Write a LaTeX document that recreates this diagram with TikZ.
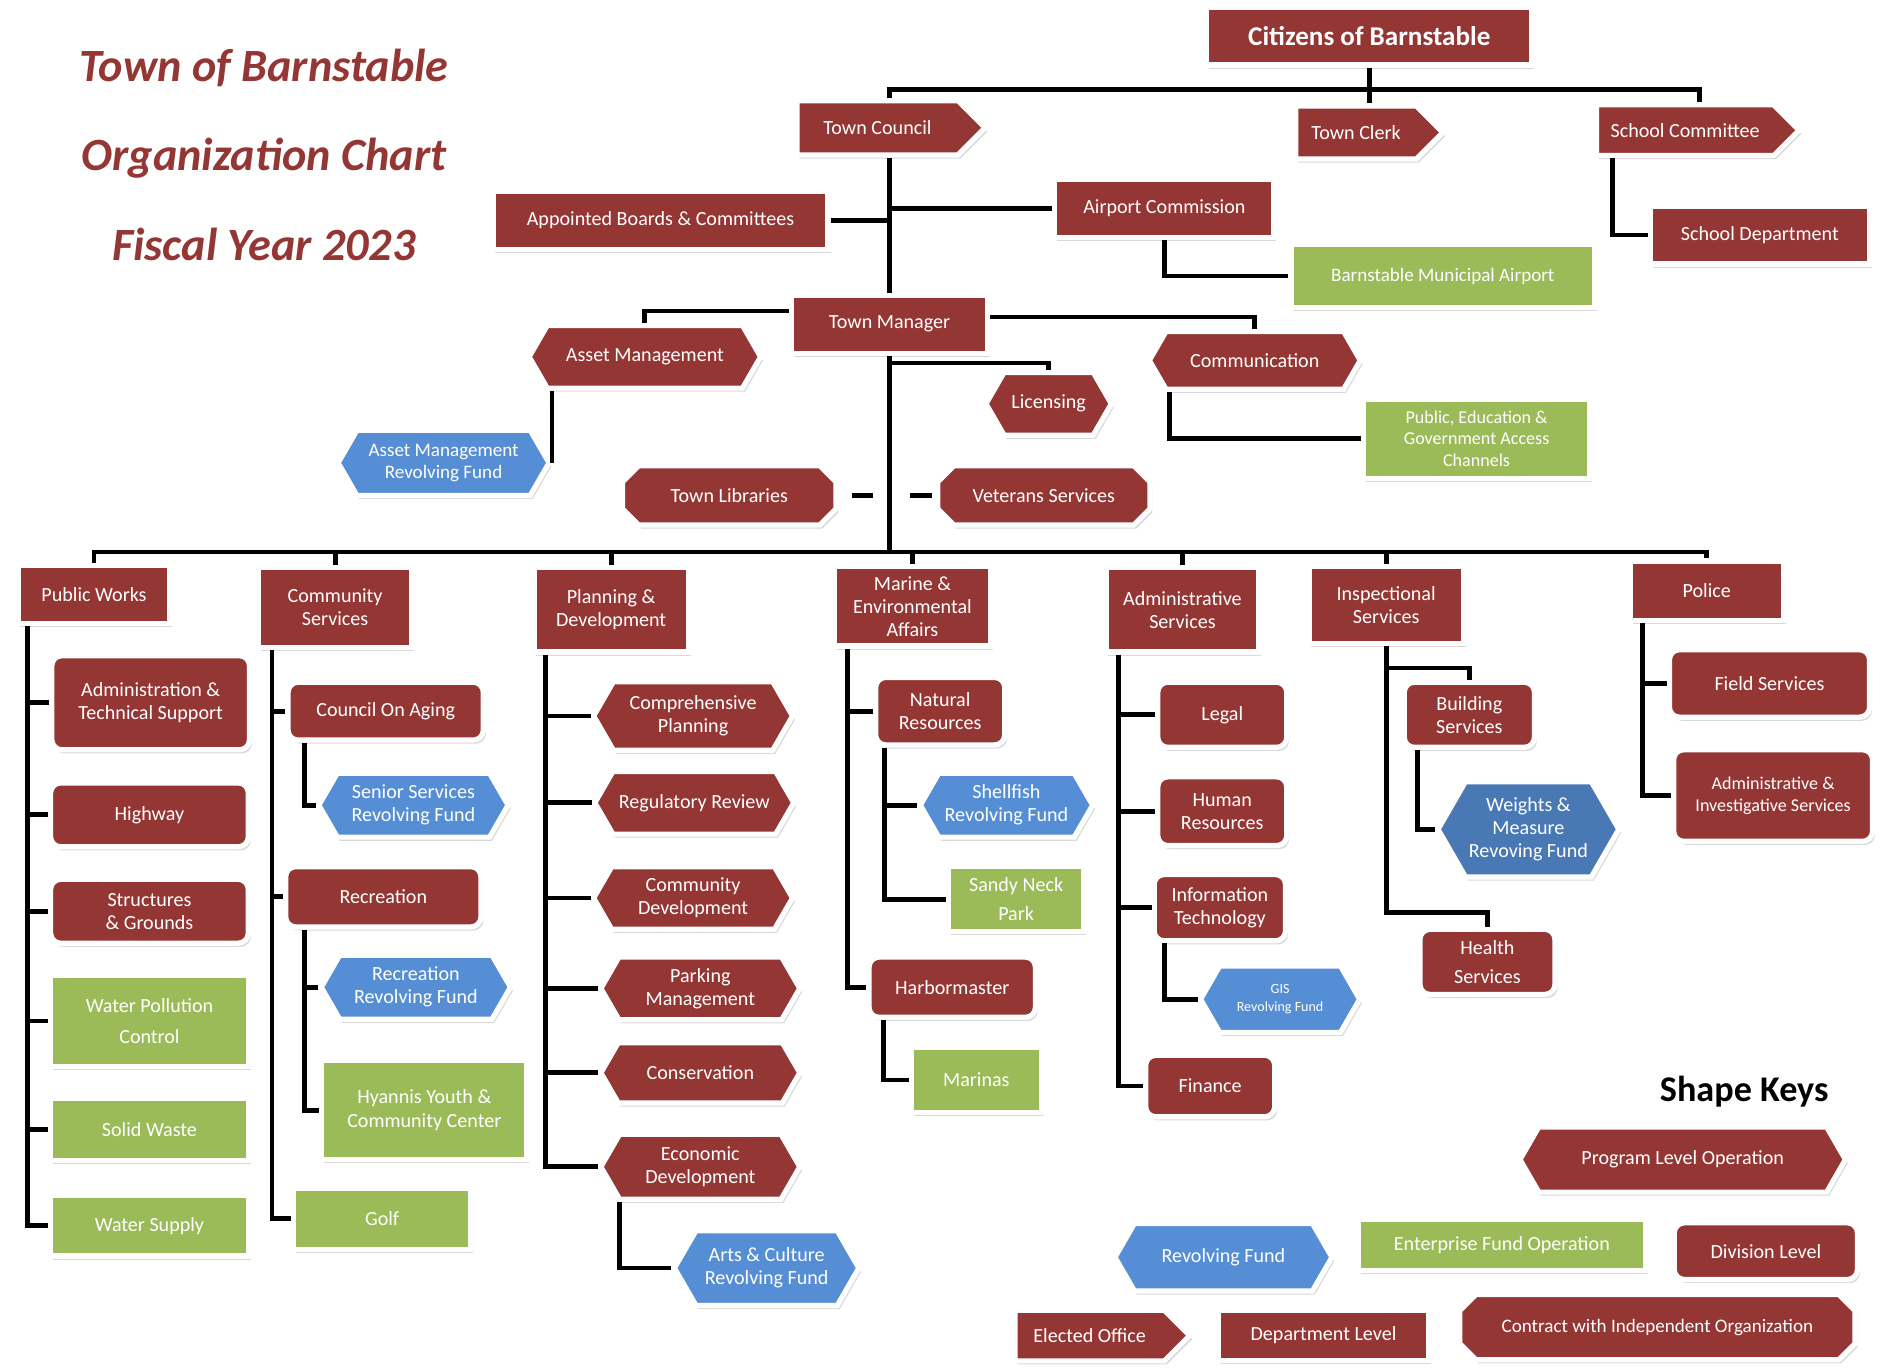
\documentclass[tikz,border=0pt]{standalone}
\usepackage{fontspec}
\setmainfont{Carlito}
\usetikzlibrary{shapes.symbols,shapes.misc,shadows}
\definecolor{boxred}{RGB}{148,54,52}
\definecolor{fundblue}{RGB}{85,142,213}
\definecolor{entgreen}{RGB}{155,187,89}
\tikzset{
    %Define base style for all boxes
    unit/.style={
           draw=white,
           line width=2.6pt,
           text=white,
           inner sep=1pt,
           align=center,
           font=\fontsize{10}{11.5}\selectfont,
           drop shadow={shadow xshift=1.2pt,shadow yshift=-1.8pt,opacity=.3}},
    %Size of a box, in picture units
    wh/.style 2 args={
           minimum width=#1*0.6pt,
           minimum height=#2*0.6pt},
    %Department level
    dept/.style={unit, rectangle, fill=boxred},
    %Division level
    divn/.style={unit, rectangle, rounded corners=5pt, fill=boxred},
    %Program level operation
    prog/.style={unit, signal, signal to=east and west,
           signal pointer angle=120, fill=boxred},
    %Revolving fund
    rfund/.style={prog, fill=fundblue},
    %Enterprise fund operation
    ent/.style={unit, rectangle, fill=entgreen},
    %Elected office
    elect/.style={unit, signal, signal to=east,
           signal pointer angle=90, fill=boxred},
    %Contract with independent organization
    contr/.style={unit, chamfered rectangle,
           chamfered rectangle xsep=4pt,
           chamfered rectangle ysep=4pt, fill=boxred},
    %Title text
    ttl/.style={font=\fontsize{23}{26}\selectfont\bfseries\itshape, text=boxred},
    % Define connector style
    conn/.style={
           line width=2.4pt,
           black}
}

\begin{document}
\begin{tikzpicture}[x=0.6pt, y=-0.6pt]
  \useasboundingbox (0,0) rectangle (1568,1136);
  \node[ttl] (t1) at (219,56) {Town of Barnstable};
  \node[ttl] (t2) at (219,131) {Organization Chart};
  \node[ttl] (t3) at (219,203) {Fiscal Year 2023};

  % top of the chart
  \node[dept, wh={270}{48}, font=\fontsize{13.5}{15}\selectfont\bfseries] (cit) at (1136,30) {Citizens of Barnstable};
  \node[elect, wh={156}{45}] (tc) at (728,106) {Town Council};
  \node[elect, wh={122}{44}] (clerk) at (1125,110) {Town Clerk};
  \node[elect, wh={168}{42}] (sc) at (1398,108) {School Committee};
  \node[dept, wh={278}{48}] (ab) at (548,183) {Appointed Boards \& Committees};
  \node[dept, wh={182}{48}] (ac) at (966,173) {Airport Commission};
  \node[ent, wh={252}{52}, font=\fontsize{9.5}{11}\selectfont] (bma) at (1197,229) {Barnstable Municipal Airport};
  \node[dept, wh={182}{48}] (sd) at (1460,195) {School Department};
  \node[dept, wh={163}{48}] (tm) at (738,269) {Town Manager};
  \node[prog, wh={192}{52}] (am) at (535,296) {Asset Management};
  \node[rfund, wh={175}{54}, font=\fontsize{9.5}{11}\selectfont] (amrf) at (368,384) {Asset Management\\Revolving Fund};
  \node[prog, wh={175}{48}] (comm) at (1041,299) {Communication};
  \node[ent, wh={187}{66}, font=\fontsize{9}{10.5}\selectfont] (peg) at (1225,364) {Public, Education \&\\Government Access\\Channels};
  \node[prog, wh={104}{52}] (lic) at (870,335) {Licensing};
  \node[contr, wh={177}{49}] (tl) at (605,411) {Town Libraries};
  \node[contr, wh={176}{49}] (vs) at (866,411) {Veterans Services};

  % departments
  \node[dept, wh={126}{48}] (pw) at (78,493) {Public Works};
  \node[dept, wh={127}{66}] (cs) at (278,504) {Community\\Services};
  \node[dept, wh={128}{70}] (pd) at (507,506) {Planning \&\\Development};
  \node[dept, wh={129}{66}] (mea) at (757,503) {Marine \&\\Environmental\\Affairs};
  \node[dept, wh={127}{70}] (as) at (981,506) {Administrative\\Services};
  \node[dept, wh={128}{64}] (is) at (1150,502) {Inspectional\\Services};
  \node[dept, wh={127}{49}] (po) at (1416,490) {Police};

  % public works
  \node[divn, wh={164}{78}] (ats) at (125,583) {Administration \&\\Technical Support};
  \node[divn, wh={164}{53}] (hw) at (124,676) {Highway};
  \node[divn, wh={164}{53}] (sg) at (124,756) {Structures\\\& Grounds};
  \node[ent, wh={164}{76}] (wpc) at (124,847) {Water Pollution\\[4pt]Control};
  \node[ent, wh={164}{52}] (sw) at (124,937) {Solid Waste};
  \node[ent, wh={164}{50}] (wsup) at (124,1017) {Water Supply};

  % community services
  \node[divn, wh={162}{48}] (coa) at (320,590) {Council On Aging};
  \node[rfund, wh={157}{53}] (ssrf) at (343,668) {Senior Services\\Revolving Fund};
  \node[divn, wh={162}{50}] (rec) at (318,744) {Recreation};
  \node[rfund, wh={157}{53}] (rrf) at (345,819) {Recreation\\Revolving Fund};
  \node[ent, wh={170}{82}] (hycc) at (352,921) {Hyannis Youth \&\\Community Center};
  \node[ent, wh={147}{51}] (golf) at (317,1011) {Golf};

  % planning and development
  \node[prog, wh={165}{57}] (cp) at (575,594) {Comprehensive\\Planning};
  \node[prog, wh={165}{52}] (rr) at (576,666) {Regulatory Review};
  \node[prog, wh={165}{52}] (cd) at (575,745) {Community\\Development};
  \node[prog, wh={165}{52}] (pm) at (581,820) {Parking\\Management};
  \node[prog, wh={165}{50}] (cons) at (581,890) {Conservation};
  \node[prog, wh={165}{54}] (ed) at (581,968) {Economic\\Development};
  \node[rfund, wh={153}{62}] (acrf) at (636,1052) {Arts \& Culture\\Revolving Fund};

  % marine and environmental affairs
  \node[divn, wh={107}{56}] (nr) at (780,590) {Natural\\Resources};
  \node[rfund, wh={143}{53}] (shf) at (835,668) {Shellfish\\Revolving Fund};
  \node[ent, wh={112}{54}] (snp) at (843,746) {Sandy Neck\\[3pt]Park};
  \node[divn, wh={138}{50}] (hm) at (790,819) {Harbormaster};
  \node[ent, wh={108}{54}] (mar) at (810,896) {Marinas};

  % administrative services
  \node[divn, wh={107}{54}] (leg) at (1014,593) {Legal};
  \node[divn, wh={107}{57}] (hr) at (1014,673) {Human\\Resources};
  \node[divn, wh={109}{55}] (it) at (1012,753) {Information\\Technology};
  \node[rfund, wh={132}{55}, font=\fontsize{7}{9}\selectfont] (gis) at (1062,829) {GIS\\Revolving Fund};
  \node[divn, wh={107}{51}] (fin) at (1004,901) {Finance};

  % inspectional services
  \node[divn, wh={108}{54}] (bs) at (1219,593) {Building\\Services};
  \node[rfund, wh={150}{79}, fill=fundblue!85!black] (wm) at (1268,688) {Weights \&\\Measure\\Revoving Fund};
  \node[divn, wh={112}{54}] (hs) at (1234,798) {Health\\[3pt]Services};

  % police
  \node[divn, wh={166}{56}] (fs) at (1468,567) {Field Services};
  \node[divn, wh={165}{76}, font=\fontsize{9}{11}\selectfont] (ais) at (1471,660) {Administrative \&\\Investigative Services};

  % shape keys
  \node[font=\fontsize{18}{20}\selectfont\bfseries] (keys) at (1447,906) {Shape Keys};
  \node[prog, wh={270}{54}] (k1) at (1396,962) {Program Level Operation};
  \node[rfund, wh={180}{56}] (k2) at (1015,1043) {Revolving Fund};
  \node[ent, wh={238}{42}] (k3) at (1246,1033) {Enterprise Fund Operation};
  \node[divn, wh={152}{47}] (k4) at (1465,1038) {Division Level};
  \node[elect, wh={145}{42}] (k5) at (904,1108) {Elected Office};
  \node[dept, wh={175}{42}] (k6) at (1098,1108) {Department Level};
  \node[contr, wh={328}{54}, font=\fontsize{9.5}{11}\selectfont] (k7) at (1375,1101) {Contract with Independent Organization};

  % connectors, top
  \coordinate (top) at ([yshift=-10.8pt]cit.south);
  \draw[conn] (cit.south) -- (cit.south |- clerk.north);
  \draw[conn] (tm.north |- tc.north) |- (top) -| ([xshift=7.2pt]sc.north);
  \draw[conn] (tc.south -| tm.north) -- (tm.north);
  \draw[conn] (ab.east) -- (ab.east -| tm.north);
  \draw[conn] (ac.west) -- (ac.west -| tm.north);
  \draw[conn] (ac.south) |- (bma.west);
  \draw[conn] ([xshift=-36pt]sc.south) |- (sd.west);
  \draw[conn] ([yshift=6.6pt]tm.west) -| (am.north);
  \draw[conn] ([yshift=3.6pt]tm.east) -| (comm.north);
  \draw[conn] ([yshift=-3.6pt]tm.south) -| (lic.north);
  \draw[conn] (amrf.east) -- (amrf.east |- am.south);
  \draw[conn] ([xshift=-42.6pt]comm.south) |- (peg.west);
  \draw[conn] ([xshift=6.9pt]tl.east) -- ([xshift=17.1pt]tl.east);
  \draw[conn] ([xshift=-12.6pt]vs.west) -- ([xshift=-1.8pt]vs.west);

  % connectors, departments
  \coordinate (bus) at (738,458);
  \draw[conn] (tm.south) -- (bus);
  \draw[conn] (pw.north) |- (bus) -| (po.north);
  \foreach \d in {cs,pd,mea,as,is}
    \draw[conn] (\d.north) -- (\d.north |- bus);

  \coordinate (pwS) at ([xshift=6pt]pw.south west);
  \draw[conn] (pwS) |- (wsup.west);
  \foreach \c in {ats,hw,sg,wpc,sw}
    \draw[conn] (\c.west) -- (\c.west -| pwS);

  \coordinate (csS) at ([xshift=8pt]cs.south west);
  \draw[conn] (csS) |- (golf.west);
  \foreach \c in {coa,rec}
    \draw[conn] (\c.west) -- (\c.west -| csS);
  \draw[conn] ([xshift=9.6pt]coa.south west) |- (ssrf.west);
  \coordinate (recS) at ([xshift=10.8pt]rec.south west);
  \draw[conn] (recS) |- (hycc.west);
  \draw[conn] (rrf.west) -- (rrf.west -| recS);

  \coordinate (pdS) at ([xshift=7.2pt]pd.south west);
  \draw[conn] (pdS) |- (ed.west);
  \foreach \c in {cp,rr,cd,pm,cons}
    \draw[conn] (\c.west) -- (\c.west -| pdS);
  \draw[conn] ([xshift=-40.2pt]ed.south) |- (acrf.west);

  \coordinate (meaS) at ([xshift=7.5pt]mea.south west);
  \draw[conn] (meaS) |- (hm.west);
  \draw[conn] (nr.west) -- (nr.west -| meaS);
  \coordinate (nrS) at ([xshift=5.7pt]nr.south west);
  \draw[conn] (nrS) |- (snp.west);
  \draw[conn] (shf.west) -- (shf.west -| nrS);
  \draw[conn] ([xshift=8.4pt]hm.south west) |- (mar.west);

  \coordinate (asS) at ([xshift=7.5pt]as.south west);
  \draw[conn] (asS) |- (fin.west);
  \foreach \c in {leg,hr,it}
    \draw[conn] (\c.west) -- (\c.west -| asS);
  \draw[conn] ([xshift=6.3pt]it.south west) |- (gis.west);

  \draw[conn] (is.south) |- ([yshift=7.2pt]hs.north) -- (hs.north);
  \draw[conn] ([yshift=-10.8pt]is.south) -| (bs.north);
  \draw[conn] ([xshift=7.8pt]bs.south west) |- (wm.west);

  \coordinate (poS) at ([xshift=7.5pt]po.south west);
  \draw[conn] (poS) |- (ais.west);
  \draw[conn] (fs.west) -- (fs.west -| poS);
\end{tikzpicture}
\end{document}
